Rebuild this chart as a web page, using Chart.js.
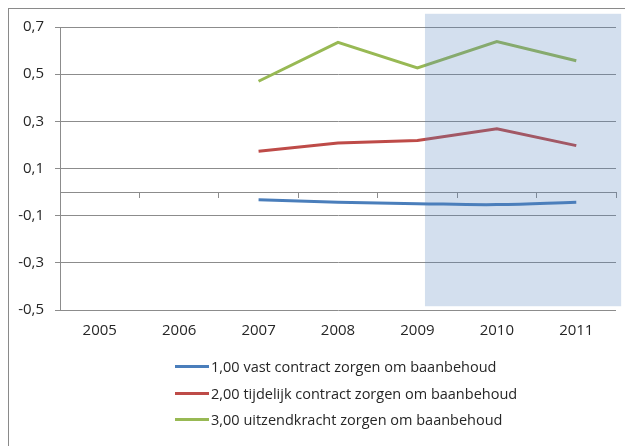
<!DOCTYPE html>
<html>
<head>
<meta charset="utf-8">
<script src="https://cdn.jsdelivr.net/npm/chart.js@4"></script>
<style>
  html, body { margin: 0; padding: 0; background: #fff; }
  #wrap { position: relative; width: 625px; height: 446px; overflow: hidden; }
  #frame { position: absolute; left: 8px; top: 8px; width: 700px; height: 500px;
           border-top: 1px solid #8a8a8a; border-left: 1px solid #8a8a8a; }
  canvas { position: absolute; left: 0; top: 0; }
  #legend { position: absolute; left: 175px; top: 353px; font-family: 'Open Sans', sans-serif;
            font-size: 14.5px; color: #262626; }
  .row { height: 26.7px; display: flex; align-items: center; }
  .swatch { width: 34px; height: 3px; margin-right: 2px; }
</style>
</head>
<body>
<div id="wrap">
  <div id="frame"></div>
  <canvas id="c" width="625" height="446"></canvas>
  <div id="legend"></div>
</div>
<script>
const years = ['2005', '2006', '2007', '2008', '2009', '2010', '2011'];
const vast = [null, null, -0.033, -0.043, -0.049, -0.053, -0.043];
const tijdelijk = [null, null, 0.173, 0.208, 0.219, 0.268, 0.197];
const uitzend = [null, null, 0.47, 0.635, 0.526, 0.638, 0.557];
const seriesNames = [
  '1,00 vast contract zorgen om baanbehoud',
  '2,00 tijdelijk contract zorgen om baanbehoud',
  '3,00 uitzendkracht zorgen om baanbehoud',
];
const yTicks = [-0.5, -0.3, -0.1, 0.1, 0.3, 0.5, 0.7];
// shaded block, in category index / value units
const highlightX = [4.095, 6.565];
const highlightY = [-0.484, 0.756];

const COLORS = ['#4A7EBB', '#BE4B48', '#98B954'];
const GRID = '#8c8c8c';
const FONT = { family: 'Open Sans', size: 15 };

const highlight = {
  id: 'highlight',
  afterDatasetsDraw(chart) {
    const { ctx, scales: { x, y } } = chart;
    const x0 = x.getPixelForValue(highlightX[0]);
    const x1 = x.getPixelForValue(highlightX[1]);
    const y0 = y.getPixelForValue(highlightY[1]);
    const y1 = y.getPixelForValue(highlightY[0]);
    ctx.save();
    ctx.fillStyle = 'rgba(79,129,189,0.25)';
    ctx.fillRect(x0, y0, x1 - x0, y1 - y0);
    ctx.restore();
  },
};

new Chart(document.getElementById('c'), {
  type: 'line',
  data: {
    labels: years,
    datasets: [vast, tijdelijk, uitzend].map((d, i) => ({
      label: seriesNames[i],
      data: d,
      borderColor: COLORS[i],
      borderWidth: 3,
      pointRadius: 0,
      tension: i === 0 ? 0.4 : 0,
      spanGaps: false,
    })),
  },
  options: {
    responsive: false,
    animation: false,
    layout: { padding: { left: 0, right: 9, top: 27, bottom: 96 } },
    plugins: { legend: { display: false }, tooltip: { enabled: false } },
    scales: {
      x: {
        type: 'category',
        offset: true,
        grid: { display: false, drawTicks: false },
        border: { display: false },
        ticks: { font: FONT, color: '#262626', padding: 12, maxRotation: 0 },
        afterFit: s => { s.height = 40; },
      },
      x2: {
        type: 'category',
        position: { y: 0 },
        offset: true,
        grid: { drawOnChartArea: false, offset: true, tickLength: 5, color: GRID },
        border: { display: true, color: GRID },
        ticks: { display: false },
        afterFit: s => { s.height = 0; },
      },
      y: {
        min: -0.5,
        max: 0.7,
        afterBuildTicks: s => { s.ticks = yTicks.map(v => ({ value: v })); },
        grid: { color: GRID, tickLength: 5 },
        border: { display: true, color: GRID },
        ticks: {
          font: FONT,
          color: '#262626',
          padding: 11,
          callback: v => v.toFixed(1).replace('.', ','),
        },
        afterFit: s => { s.width = 60; },
      },
    },
  },
  plugins: [highlight],
});

document.getElementById('legend').innerHTML = seriesNames
  .map((n, i) => `<div class="row"><span class="swatch" style="background:${COLORS[i]}"></span>${n}</div>`)
  .join('');
</script>
</body>
</html>
